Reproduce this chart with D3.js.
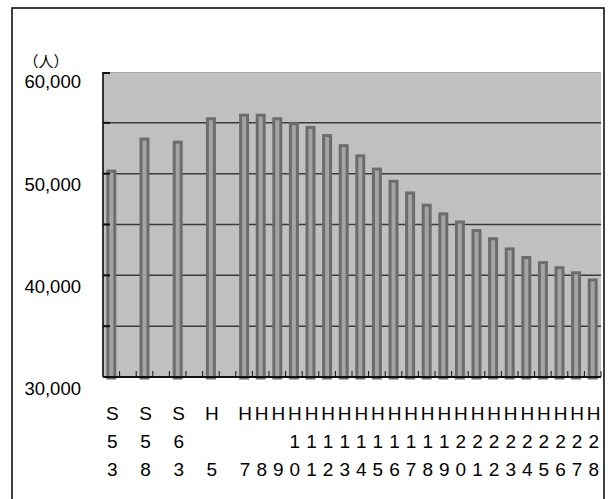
<!DOCTYPE html>
<html>
<head>
<meta charset="utf-8">
<script src="https://cdn.jsdelivr.net/npm/d3@7"></script>
<style>
  html, body { margin: 0; padding: 0; background: #fff; }
  svg { display: block; }
</style>
</head>
<body>
<svg id="chart" width="610" height="499"></svg>
<script>
// category slots along the x axis (null = empty slot)
const slots = ['S53', null, 'S58', null, 'S63', null, 'H5', null,
  'H7', 'H8', 'H9', 'H10', 'H11', 'H12', 'H13', 'H14', 'H15', 'H16', 'H17',
  'H18', 'H19', 'H20', 'H21', 'H22', 'H23', 'H24', 'H25', 'H26', 'H27', 'H28'];

const years = ['S53', 'S58', 'S63', 'H5',
  'H7', 'H8', 'H9', 'H10', 'H11', 'H12', 'H13', 'H14', 'H15', 'H16', 'H17',
  'H18', 'H19', 'H20', 'H21', 'H22', 'H23', 'H24', 'H25', 'H26', 'H27', 'H28'];

const population = [50250, 53400, 53100, 55400,
  55750, 55750, 55400, 54900, 54550, 53750, 52750, 51750, 50450, 49250, 48100,
  46900, 46050, 45250, 44400, 43600, 42600, 41750, 41250, 40750, 40250, 39550];

const yLabels = [60000, 50000, 40000, 30000];
const gridValues = [55000, 50000, 45000, 40000, 35000];
const unitLabel = '（人）';

const svg = d3.select('#chart');
const plot = { left: 103, right: 601, top: 72, bottom: 377 };

const x = d3.scaleBand()
  .domain(d3.range(slots.length))
  .range([plot.left, plot.right])
  .paddingInner(0)
  .paddingOuter(0);

const y = d3.scaleLinear()
  .domain([30000, 60000])
  .range([plot.bottom, plot.top]);

// labels sit a little below their grid value, as in the original picture
const yLabel = d3.scaleLinear()
  .domain([30000, 60000])
  .range([plot.bottom + 12, plot.top + 10]);

// outer frame
svg.append('rect')
  .attr('x', 12).attr('y', 8)
  .attr('width', 592).attr('height', 520)
  .attr('fill', 'none')
  .attr('stroke', '#000')
  .attr('stroke-width', 1.5);

// plot background
svg.append('rect')
  .attr('x', plot.left).attr('y', plot.top)
  .attr('width', plot.right - plot.left)
  .attr('height', plot.bottom - plot.top)
  .attr('fill', '#c0c0c0');

svg.append('line')
  .attr('x1', plot.left).attr('x2', plot.right)
  .attr('y1', plot.top + 0.5).attr('y2', plot.top + 0.5)
  .attr('stroke', '#a8a8a8');

// grid
svg.append('g')
  .selectAll('line')
  .data(gridValues)
  .enter()
  .append('line')
  .attr('x1', plot.left).attr('x2', plot.right)
  .attr('y1', d => y(d)).attr('y2', d => y(d))
  .attr('stroke', '#3a3a3a')
  .attr('stroke-width', 1.5);

// bars
const barW = x.bandwidth() * 0.42;
svg.append('g')
  .selectAll('rect')
  .data(years.map((k, i) => ({ key: k, value: population[i] })))
  .enter()
  .append('rect')
  .attr('x', d => x(slots.indexOf(d.key)) + (x.bandwidth() - barW) / 2)
  .attr('y', d => y(d.value))
  .attr('width', barW)
  .attr('height', d => y(30000) - y(d.value) + 1)
  .attr('fill', '#a4a4a4')
  .attr('stroke', '#6c6c6c')
  .attr('stroke-width', 3);

// x axis with inward ticks at slot boundaries
const xAxis = svg.append('g');
xAxis.append('line')
  .attr('x1', plot.left).attr('x2', plot.right)
  .attr('y1', plot.bottom).attr('y2', plot.bottom)
  .attr('stroke', '#111')
  .attr('stroke-width', 2);
xAxis.selectAll('line.tick')
  .data(d3.range(1, slots.length + 1))
  .enter()
  .append('line')
  .attr('class', 'tick')
  .attr('x1', d => x(d - 1) + x.bandwidth()).attr('x2', d => x(d - 1) + x.bandwidth())
  .attr('y1', plot.bottom).attr('y2', plot.bottom - 6)
  .attr('stroke', '#111')
  .attr('stroke-width', 1);

// y axis line
svg.append('line')
  .attr('x1', plot.left).attr('x2', plot.left)
  .attr('y1', plot.top).attr('y2', plot.bottom)
  .attr('stroke', '#333')
  .attr('stroke-width', 2);
svg.append('g')
  .selectAll('line')
  .data([60000].concat(gridValues))
  .enter()
  .append('line')
  .attr('x1', plot.left).attr('x2', plot.left + 7)
  .attr('y1', d => y(d) + (d === 60000 ? 1 : 0)).attr('y2', d => y(d) + (d === 60000 ? 1 : 0))
  .attr('stroke', '#111')
  .attr('stroke-width', 2);

// y labels
svg.append('g')
  .selectAll('text')
  .data(yLabels)
  .enter()
  .append('text')
  .attr('x', 81)
  .attr('y', d => yLabel(d))
  .attr('dy', '0.35em')
  .attr('text-anchor', 'end')
  .attr('font-family', 'Liberation Sans, Arial, sans-serif')
  .attr('font-size', 18.5)
  .attr('fill', '#000')
  .text(d => d3.format(',')(d));

svg.append('text')
  .attr('x', 46).attr('y', 62)
  .attr('dy', '0.35em')
  .attr('text-anchor', 'middle')
  .attr('font-family', 'Noto Sans CJK JP, sans-serif')
  .attr('font-size', 15)
  .attr('fill', '#000')
  .text(unitLabel);

// x labels: era letter on top, year digits right-aligned in two rows below
const rowY = [420, 448, 476];
const xl = svg.append('g')
  .attr('font-family', 'Liberation Sans, Arial, sans-serif')
  .attr('font-size', 19)
  .attr('fill', '#000')
  .attr('text-anchor', 'middle');

years.forEach(k => {
  const cx = x(slots.indexOf(k)) + x.bandwidth() / 2 + 1;
  const era = k[0];
  const num = k.slice(1).padStart(2, ' ');
  const chars = [era, num[0], num[1]];
  chars.forEach((c, r) => {
    if (c.trim() === '') return;
    xl.append('text')
      .attr('x', cx)
      .attr('y', rowY[r])
      .text(c);
  });
});
</script>
</body>
</html>
